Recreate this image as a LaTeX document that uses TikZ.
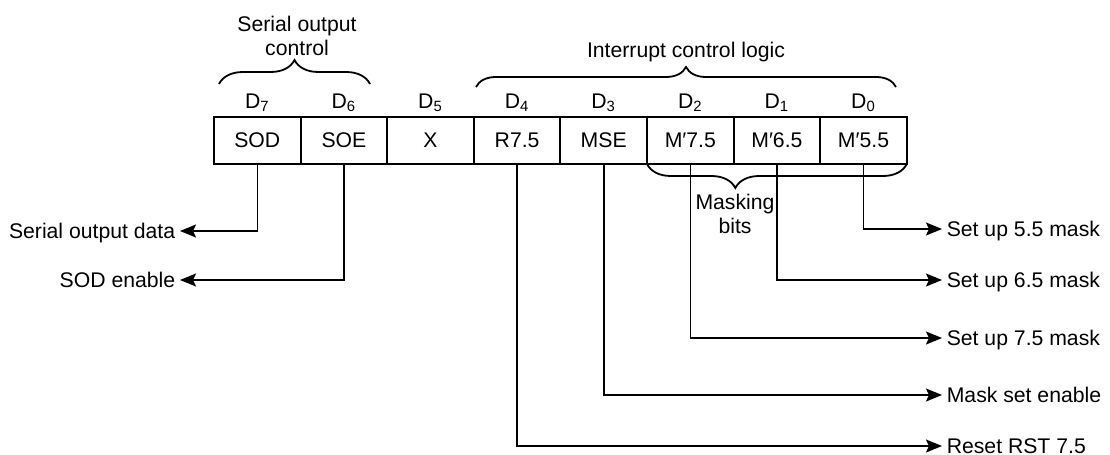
\documentclass[tikz,border=0pt]{standalone}
\usepackage{fontspec}
\setmainfont{Liberation Sans}
\usetikzlibrary{arrows.meta,positioning,decorations.pathreplacing}

\begin{document}
\begin{tikzpicture}[x=0.5pt, y=-0.5pt, line width=0.8pt,
	>={Stealth[length=8pt,width=6.5pt,inset=1.5pt]},
	font=\fontsize{10.6}{12}\selectfont,
	bit/.style={draw, line width=1pt, minimum width=43.3pt, minimum height=23.5pt,
		inner sep=0pt, outer sep=0pt},
	bitno/.style={inner sep=0pt, text depth=3pt},
	outlabel/.style={inner sep=2pt, text height=7.5pt, text depth=0pt},
	bracedeco/.style={decorate, line width=0.9pt, decoration={brace, amplitude=#1}}]
	\useasboundingbox (0,0) rectangle (1110,455);

	% Register bits {D7 ... D0}
	\node [bit] 	(b7) at (257.3,140.5) 	{SOD};
	\node [bit] 	(b6) [right=0pt of b7] 	{SOE};
	\node [bit] 	(b5) [right=0pt of b6] 	{X};
	\node [bit] 	(b4) [right=0pt of b5] 	{R7.5};
	\node [bit] 	(b3) [right=0pt of b4] 	{MSE};
	\node [bit] 	(b2) [right=0pt of b3] 	{M′7.5};
	\node [bit] 	(b1) [right=0pt of b2] 	{M′6.5};
	\node [bit] 	(b0) [right=0pt of b1] 	{M′5.5};

	% Bit numbers
	\node [bitno] 	(d7) [above=1pt of b7] 	{D\textsubscript{7}};
	\node [bitno] 	(d6) [above=1pt of b6] 	{D\textsubscript{6}};
	\node [bitno] 	(d5) [above=1pt of b5] 	{D\textsubscript{5}};
	\node [bitno] 	(d4) [above=1pt of b4] 	{D\textsubscript{4}};
	\node [bitno] 	(d3) [above=1pt of b3] 	{D\textsubscript{3}};
	\node [bitno] 	(d2) [above=1pt of b2] 	{D\textsubscript{2}};
	\node [bitno] 	(d1) [above=1pt of b1] 	{D\textsubscript{1}};
	\node [bitno] 	(d0) [above=1pt of b0] 	{D\textsubscript{0}};

	% Braces and their labels
	\draw [bracedeco=12pt] 	(219,84) -- (370,84);
	\draw [bracedeco=10pt] 	(476,87) -- (896,87);
	\draw [bracedeco=12pt, decoration={aspect=0.66}] 	(b0.south east) -- (b2.south west);
	\node [align=center] 	(serctl) at (297,36) 	{Serial output\\control};
	\node [anchor=base] 	(intctl) at (686,57) 	{Interrupt control logic};
	\node [align=center] 	(maskbits) at (735,214) 	{Masking\\bits};

	% Outputs on the left
	\node [outlabel, anchor=east] 	(sodata) at (180,231) 	{Serial output data};
	\node [outlabel, anchor=east] 	(soden) at (180,280) 	{SOD enable};

	% Outputs on the right
	\node [outlabel, anchor=west] 	(set55) at (942,229) 	{Set up 5.5 mask};
	\node [outlabel, anchor=west] 	(set65) at (942,280) 	{Set up 6.5 mask};
	\node [outlabel, anchor=west] 	(set75) at (942,338) 	{Set up 7.5 mask};
	\node [outlabel, anchor=west] 	(mseout) at (942,395) 	{Mask set enable};
	\node [outlabel, anchor=west] 	(rstout) at (942,446) 	{Reset RST 7.5};

	% Connectors
	\draw [->] 	(b7.south) |- (sodata);
	\draw [->] 	(b6.south) |- (soden);
	\draw [->] 	(b4.south) |- (rstout);
	\draw [->] 	(b3.south) |- (mseout);
	\draw [->] 	(b2.south) |- (set75);
	\draw [->] 	(b1.south) |- (set65);
	\draw [->] 	(b0.south) |- (set55);

\end{tikzpicture}
\end{document}
